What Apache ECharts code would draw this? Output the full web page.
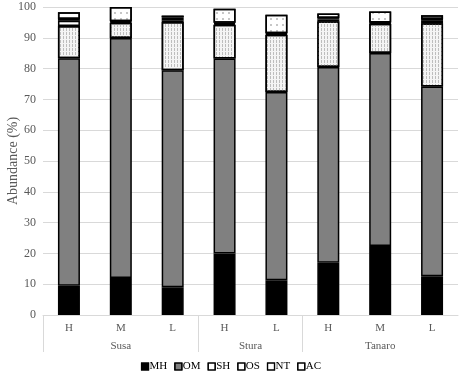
<!DOCTYPE html>
<html>
<head>
<meta charset="utf-8">
<script src="https://cdn.jsdelivr.net/npm/echarts@6/dist/echarts.min.js"></script>
<style>html,body{margin:0;padding:0;background:#fff;}#c{width:462px;height:376px;}</style>
</head>
<body>
<div id="c"></div>
<script>
const sites = ['H', 'M', 'L', 'H', 'L', 'H', 'M', 'L'];
const groups = ['Susa', 'Stura', 'Tanaro'];
const groupSizes = [3, 2, 3];
const yTicks = [0, 10, 20, 30, 40, 50, 60, 70, 80, 90, 100];
const MH = [9.5, 12.0, 9.0, 20.0, 11.3, 17.0, 22.4, 12.6];
const OM = [73.9, 77.9, 70.5, 63.3, 61.1, 63.5, 62.7, 61.6];
const SH = [10.4, 5.0, 15.6, 10.9, 18.6, 14.9, 9.5, 20.5];
const OS = [1.7, 0.3, 0.6, 0.4, 0.3, 0.5, 0.2, 0.8];
const NT = [0.6, 0.2, 1.0, 0.3, 0.2, 0.5, 0.2, 0.6];
const AC = [2.2, 4.6, 0.5, 4.5, 6.0, 1.5, 3.5, 1.2];

const font = 'Liberation Serif';
const txt = '#595959';

// group separators / centers in half-category units
const sepVals = [0];
const centerVals = [];
let acc = 0;
groupSizes.forEach(n => { centerVals.push(acc + n); acc += 2 * n; sepVals.push(acc); });
sepVals.pop();

function seriesOf(name, data, color, decal) {
  const s = {
    name, type: 'bar', stack: 'a', data, barWidth: 22,
    itemStyle: { color, borderColor: '#000', borderWidth: 1.5 }
  };
  if (decal) s.itemStyle.decal = decal;
  return s;
}

const plain = (c) => ({ color: c, borderColor: '#000', borderWidth: 1.2, decal: { symbol: 'none' } });

const chart = echarts.init(document.getElementById('c'));
chart.setOption({
  animation: false,
  backgroundColor: '#fff',
  textStyle: { fontFamily: font },
  grid: { left: 43, right: 4, top: 7, bottom: 61, containLabel: false, outerBoundsMode: 'none' },
  legend: {
    bottom: -1, left: 'center', icon: 'rect', itemWidth: 7, itemHeight: 7, itemGap: 7,
    textStyle: { fontFamily: font, fontSize: 11, color: '#000', padding: [0, 0, 0, -4] },
    data: [
      { name: 'MH', itemStyle: plain('#000') },
      { name: 'OM', itemStyle: plain('#808080') },
      { name: 'SH', itemStyle: plain('#fff') },
      { name: 'OS', itemStyle: plain('#fff') },
      { name: 'NT', itemStyle: plain('#fff') },
      { name: 'AC', itemStyle: plain('#fff') }
    ]
  },
  xAxis: [
    {
      type: 'category', data: sites, gridIndex: 0, position: 'bottom',
      axisLine: { show: true, lineStyle: { color: '#d9d9d9', width: 1 } },
      axisTick: { show: false },
      axisLabel: { fontFamily: font, fontSize: 11, color: txt, margin: 8 }
    },
    {
      type: 'value', min: 0, max: 16, gridIndex: 0, position: 'bottom',
      axisLine: { show: false },
      splitLine: { show: false },
      axisTick: { show: true, customValues: sepVals, length: 37, lineStyle: { color: '#d9d9d9', width: 1 } },
      axisLabel: {
        customValues: centerVals, fontFamily: font, fontSize: 11, color: txt, margin: 26,
        formatter: v => groups[centerVals.indexOf(v)] || ''
      }
    }
  ],
  yAxis: {
    type: 'value', min: yTicks[0], max: yTicks[yTicks.length - 1], interval: 10,
    name: 'Abundance (%)', nameLocation: 'middle', nameGap: 23, nameRotate: 90,
    nameMoveOverlap: false,
    nameTextStyle: { fontFamily: font, fontSize: 14, color: txt },
    axisLine: { show: false }, axisTick: { show: false },
    axisLabel: { fontFamily: font, fontSize: 12, color: txt, margin: 7 },
    splitLine: { lineStyle: { color: '#d9d9d9', width: 1 } }
  },
  series: [
    seriesOf('MH', MH, '#000'),
    seriesOf('OM', OM, '#808080'),
    seriesOf('SH', SH, '#f4f4f4', { symbol: 'rect', symbolSize: 1, color: '#bdbdbd', dashArrayX: [1, 2], dashArrayY: [3, 1], rotation: 0 }),
    seriesOf('OS', OS, '#fff'),
    seriesOf('NT', NT, '#fff'),
    seriesOf('AC', AC, '#fff', { symbol: 'rect', symbolSize: 0.6, color: '#444', dashArrayX: [2, 4], dashArrayY: [2, 4], rotation: 0 })
  ]
});
</script>
</body>
</html>
